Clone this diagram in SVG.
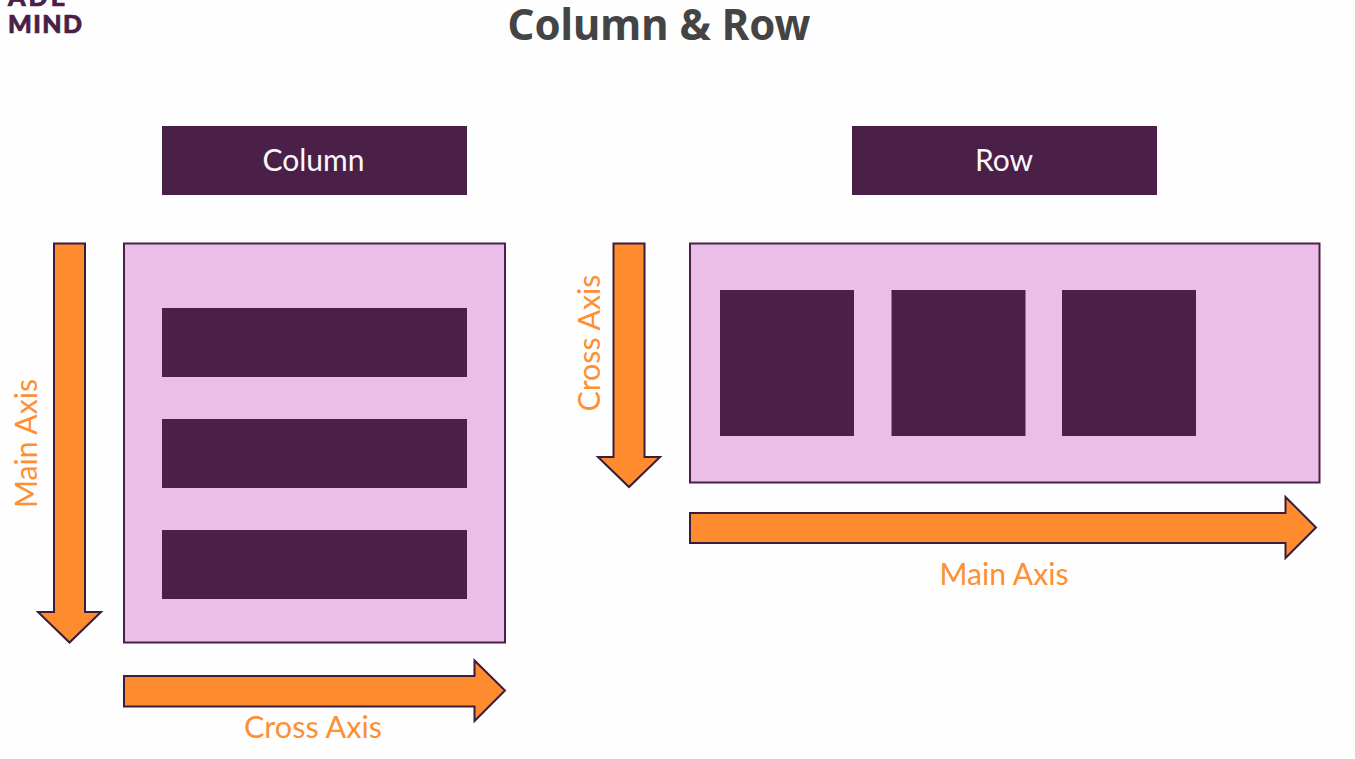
<svg xmlns="http://www.w3.org/2000/svg" width="1355" height="759" viewBox="0 0 1355 759">
<style>
.bar{fill:#4a2048}
.box{fill:#ebbee9;stroke:#4a2048;stroke-width:2}
.arrow{fill:#ff8b2f;stroke:#3a1c3c;stroke-width:2;stroke-linejoin:miter}
.lab{font-family:"Lato","Noto Sans",sans-serif;font-size:30px;fill:#ff8f33;text-anchor:middle}
.head{font-family:"Lato","Noto Sans",sans-serif;font-size:30px;fill:#fdf8fc;text-anchor:middle}
.logo{font-family:"Lato","Liberation Sans",sans-serif;font-weight:900;font-size:25px;fill:#4a2048;stroke:#4a2048;stroke-width:.7px;letter-spacing:2px}
</style>
<rect width="1355" height="759" fill="#fefefe"/>
<g id="logo">
<text class="logo" x="8" y="6" textLength="59">ADE</text>
<text class="logo" x="8" y="33" textLength="76">MIND</text>
</g>
<text id="title" x="659" y="40" text-anchor="middle" font-family="'Noto Sans','Open Sans',sans-serif" font-weight="700" font-size="43" fill="#444444" textLength="303" lengthAdjust="spacingAndGlyphs">Column &amp; Row</text>
<g id="column-header"><rect class="bar" x="162" y="126" width="305" height="69"/><text class="head" x="313.500" y="171">Column</text></g>
<g id="row-header"><rect class="bar" x="852" y="126" width="305" height="69"/><text class="head" x="1004" y="171">Row</text></g>
<g id="column-box">
<rect class="box" x="124" y="243.500" width="381" height="399"/>
</g>
<g id="column-item-1"><rect class="bar" x="162" y="308" width="305" height="69"/></g>
<g id="column-item-2"><rect class="bar" x="162" y="419" width="305" height="69"/></g>
<g id="column-item-3"><rect class="bar" x="162" y="530" width="305" height="69"/></g>
<g id="row-box">
<rect class="box" x="690" y="243.500" width="629.500" height="239"/>
</g>
<g id="row-item-1"><rect class="bar" x="720" y="290" width="134" height="146"/></g>
<g id="row-item-2"><rect class="bar" x="891.500" y="290" width="134" height="146"/></g>
<g id="row-item-3"><rect class="bar" x="1062" y="290" width="134" height="146"/></g>
<g id="connectors">
<path class="arrow" d="M54 243.500H85V612H101L69.500 642.500L38 612H54Z"/>
<path class="arrow" d="M613.500 243.500H644.500V457H660L629 487L598 457H613.500Z"/>
<path class="arrow" d="M124 676H474.500V660.500L505 690.500L474.500 721V706.500H124Z"/>
<path class="arrow" d="M690 513H1285.500V497L1316 527.500L1285.500 558V543H690Z"/>
</g>
<text class="lab" transform="translate(37 443.500) rotate(-90)" textLength="129" lengthAdjust="spacingAndGlyphs">Main Axis</text>
<text class="lab" transform="translate(600 343) rotate(-90)" textLength="137" lengthAdjust="spacingAndGlyphs">Cross Axis</text>
<text class="lab" x="313" y="738" textLength="138" lengthAdjust="spacingAndGlyphs">Cross Axis</text>
<text class="lab" x="1004" y="585" textLength="129" lengthAdjust="spacingAndGlyphs">Main Axis</text>
</svg>
